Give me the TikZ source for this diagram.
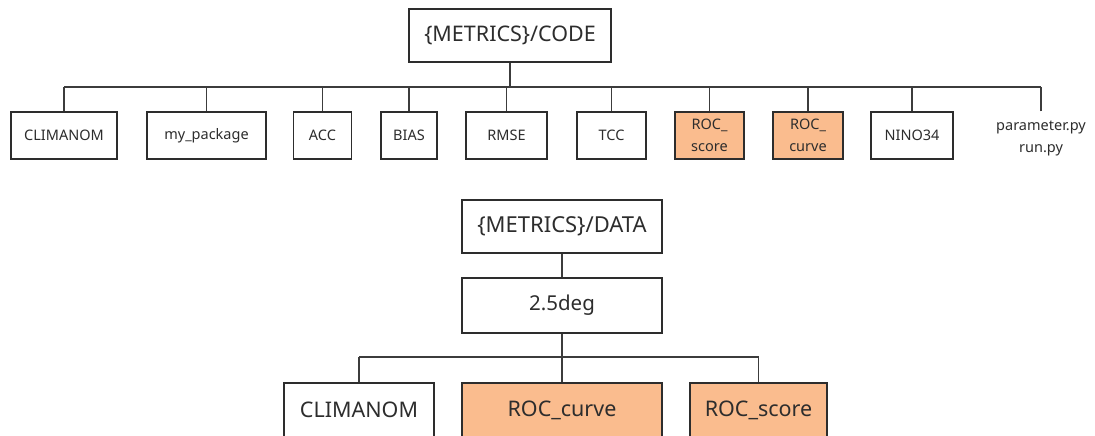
\documentclass[tikz,border=0pt]{standalone}
\usepackage{fontspec}
\setmainfont{Noto Sans}
\definecolor{peach}{RGB}{250,188,142}
\definecolor{ink}{RGB}{45,45,45}
\definecolor{wire}{RGB}{60,60,60}
\tikzset{
  sbox/.style={draw=ink, line width=1.3pt, rectangle, inner sep=0pt, text=ink,
    font=\fontsize{14.5}{22}\selectfont, align=center, minimum height=47pt},
  bbox/.style={draw=ink, line width=1.4pt, rectangle, inner sep=0pt, text=ink,
    font=\fontsize{21.5}{24}\selectfont},
  hl/.style={fill=peach},
  wireline/.style={draw=wire, line width=1.3pt},
}
\begin{document}
\begin{tikzpicture}[x=1pt,y=-1pt]
\useasboundingbox (0,0) rectangle (1095,436);
\clip (0,0) rectangle (1095,436);
\fill[white] (0,0) rectangle (1095,436);
% top tree
\node[bbox, minimum width=202pt, minimum height=53pt] (code) at (510,35.5) {\{METRICS\}/CODE};
\coordinate (bus) at (0,87);
\node[sbox, minimum width=106pt] (clim) at (64,135.5) {CLIMANOM};
\node[sbox, minimum width=119pt] (mypk) at (206.5,135.5) {my\_package};
\node[sbox, minimum width=58pt] (acc) at (322.5,135.5) {ACC};
\node[sbox, minimum width=56pt] (bias) at (409,135.5) {BIAS};
\node[sbox, minimum width=81pt] (rmse) at (506.5,135.5) {RMSE};
\node[sbox, minimum width=69pt] (tcc) at (611.5,135.5) {TCC};
\node[sbox, hl, minimum width=69pt] (rscore) at (709.5,135.5) {ROC\_\\score};
\node[sbox, hl, minimum width=70pt] (rcurve) at (808,135.5) {ROC\_\\curve};
\node[sbox, minimum width=82pt] (nino) at (912,135.5) {NINO34};
\node[sbox, draw=none, minimum width=96pt, minimum height=52pt] (param) at (1041,138) {parameter.py\\run.py};
\draw[wireline] (code.south) -- (code.south |- bus);
\draw[wireline] (clim.north |- bus) -- (param.north |- bus);
\foreach \n in {clim,mypk,acc,bias,rmse,tcc,rscore,rcurve,nino,param}
  \draw[wireline] (\n.north) -- (\n.north |- bus);
% bottom tree
\node[bbox, font=\fontsize{22}{24}\selectfont, minimum width=200pt, minimum height=53pt] (data) at (562,226.5) {\{METRICS\}/DATA};
\node[bbox, font=\fontsize{20.5}{24}\selectfont, minimum width=200pt, minimum height=55pt] (deg) at (562,305.5) {2.5deg};
\coordinate (bus2) at (0,357);
\node[bbox, minimum width=150pt, minimum height=54pt] (dclim) at (359,410) {CLIMANOM};
\node[bbox, hl, minimum width=200pt, minimum height=54pt] (dcurve) at (562,410) {ROC\_curve};
\node[bbox, hl, minimum width=137pt, minimum height=54pt] (dscore) at (758.5,410) {ROC\_score};
\draw[wireline] (data.south) -- (deg.north);
\draw[wireline] (deg.south) -- (deg.south |- bus2);
\draw[wireline] (dclim.north |- bus2) -- (dscore.north |- bus2);
\foreach \n in {dclim,dcurve,dscore}
  \draw[wireline] (\n.north) -- (\n.north |- bus2);
\end{tikzpicture}
\end{document}
